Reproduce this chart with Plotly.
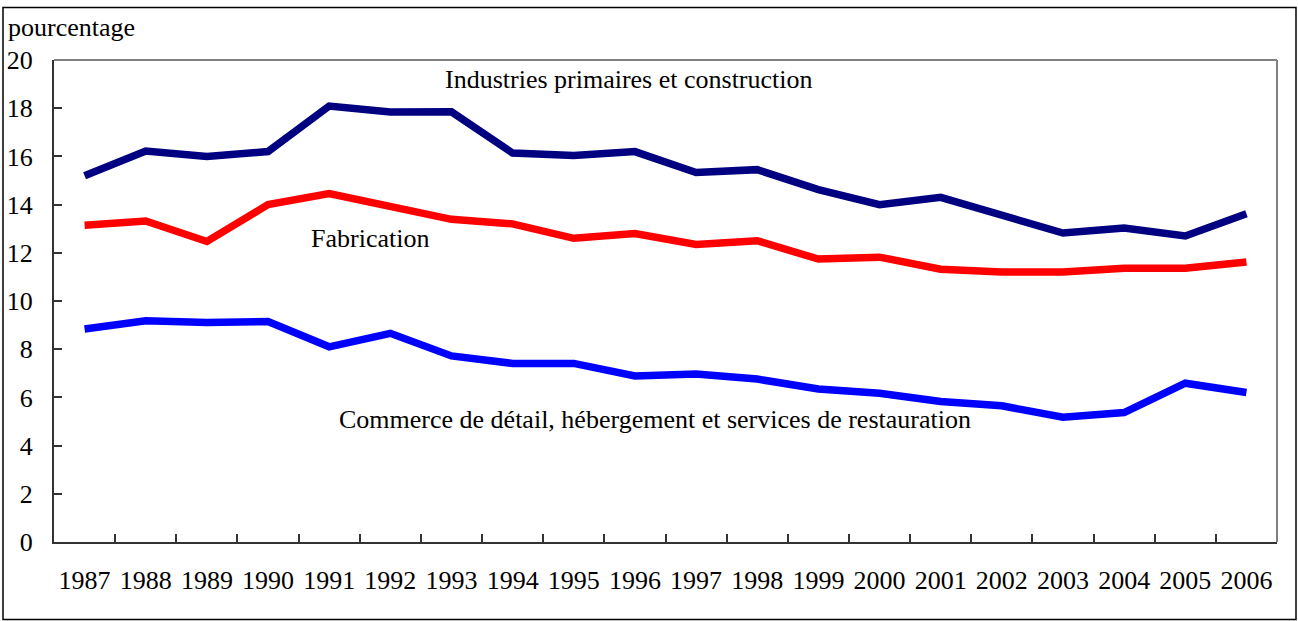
import plotly.graph_objects as go

years = [str(y) for y in range(1987, 2007)]
industries = [15.2, 16.22, 16.0, 16.2, 18.09, 17.84, 17.85, 16.14, 16.04, 16.2,
              15.33, 15.45, 14.62, 14.0, 14.3, 13.55, 12.82, 13.03, 12.7, 13.62]
fabrication = [13.14, 13.32, 12.47, 14.0, 14.46, 13.95, 13.39, 13.2, 12.6, 12.8,
               12.35, 12.5, 11.74, 11.82, 11.32, 11.2, 11.2, 11.36, 11.36, 11.62]
commerce = [8.84, 9.18, 9.11, 9.15, 8.1, 8.66, 7.72, 7.41, 7.41, 6.89,
            6.97, 6.76, 6.35, 6.17, 5.83, 5.65, 5.18, 5.37, 6.59, 6.2]

series_names = ["Industries primaires et construction", "Fabrication",
                "Commerce de détail, hébergement et services de restauration"]
y_ticks = list(range(0, 21, 2))

FONT = "Liberation Serif"
FS = 26

fig = go.Figure()
for name, vals, col in zip(series_names, [industries, fabrication, commerce],
                           ["#000080", "#FF0000", "#0000FF"]):
    fig.add_trace(go.Scatter(x=years, y=vals, mode="lines", name=name,
                             line=dict(color=col, width=7.5), showlegend=False))

W, H = 1298, 621
L, R, T, B = 54, 1277, 59.5, 542.3
pw, ph = R - L, B - T

def px(x):
    return (x - L) / pw

def py(y):
    return (B - y) / ph

fig.update_layout(
    width=W, height=H,
    margin=dict(l=L, r=W - R, t=T, b=H - B, autoexpand=False),
    paper_bgcolor="white", plot_bgcolor="white",
    font=dict(family=FONT, size=FS, color="black"),
    xaxis=dict(type="category", range=[-0.5, len(years) - 0.5], tickangle=0,
               tickson="boundaries", ticks="inside", ticklen=8,
               tickwidth=1.5, tickcolor="#333333", showline=True, linecolor="#333333",
               linewidth=2, showgrid=False, zeroline=False, ticklabelstandoff=14,
               automargin=False, tickfont=dict(family=FONT, size=FS)),
    yaxis=dict(range=[0, 20], tickvals=y_ticks, ticks="inside", ticklen=8,
               tickwidth=1.5, tickcolor="#333333", showline=True, linecolor="#333333",
               linewidth=2, showgrid=False, zeroline=False, ticklabelstandoff=14,
               automargin=False, tickfont=dict(family=FONT, size=FS)),
    shapes=[
        dict(type="line", xref="paper", yref="paper", x0=0, x1=1, y0=1, y1=1,
             line=dict(color="#808080", width=2)),
        dict(type="line", xref="paper", yref="paper", x0=1, x1=1, y0=0, y1=1,
             line=dict(color="#808080", width=2)),
        dict(type="rect", xref="paper", yref="paper", x0=px(3), x1=px(1296),
             y0=py(620), y1=py(7), line=dict(color="black", width=1.5)),
    ],
    annotations=[
        dict(text="pourcentage", xref="paper", yref="paper", x=px(6), y=py(27),
             xanchor="left", yanchor="middle", showarrow=False,
             font=dict(family=FONT, size=FS)),
        dict(text=series_names[0], xref="x", yref="y", x=8.9, y=19.2,
             xanchor="center", yanchor="middle", showarrow=False,
             font=dict(family=FONT, size=FS)),
        dict(text=series_names[1], xref="x", yref="y", x=4.67, y=12.6,
             xanchor="center", yanchor="middle", showarrow=False,
             font=dict(family=FONT, size=FS)),
        dict(text=series_names[2], xref="x", yref="y", x=9.33, y=5.07,
             xanchor="center", yanchor="middle", showarrow=False,
             font=dict(family=FONT, size=FS)),
    ],
)

fig.write_html("out.html", config={"displayModeBar": False},
               post_script="document.body.style.margin='0px';"
                           "document.body.style.overflow='hidden';")
